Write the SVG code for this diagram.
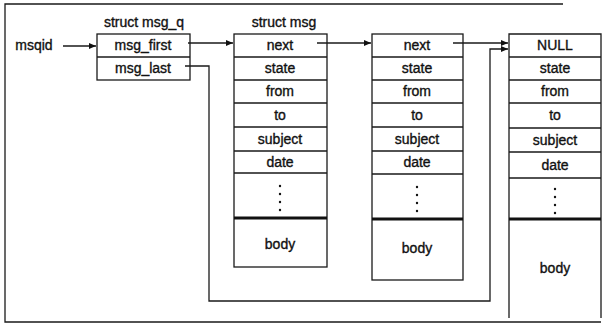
<svg xmlns="http://www.w3.org/2000/svg" width="603" height="324" viewBox="0 0 603 324">
<style>
.bx{fill:none;stroke:#1a1a1a;stroke-width:1.3}
.ln{fill:none;stroke:#1a1a1a;stroke-width:1.3}
.thick{stroke:#111;stroke-width:3}
text{font-family:"Liberation Sans",Arial,sans-serif;font-size:14px;fill:#111;stroke:#111;stroke-width:0.35;text-anchor:middle}
.dot{fill:#111}
</style>
<defs>
<marker id="ah" markerWidth="8" markerHeight="8" refX="7" refY="4" orient="auto" markerUnits="userSpaceOnUse">
<path d="M0,1 L7,4 L0,7 Z" fill="#111"/>
</marker>
</defs>
<rect width="603" height="324" fill="#fff"/>
<path class="ln" d="M563,4 H5 V322 H601"/>

<g id="msqid"><text x="34" y="50">msqid</text></g>

<g id="msg_q">
<text x="144" y="27">struct msg_q</text>
<rect class="bx" x="97" y="34" width="93" height="46"/>
<line class="ln" x1="97" y1="57" x2="190" y2="57"/>
<text x="143" y="50">msg_first</text>
<text x="143" y="73">msg_last</text>
</g>

<g id="msg1">
<text x="284" y="27">struct msg</text>
<rect class="bx" x="234" y="34" width="93" height="233"/>
<path class="ln" d="M234,57H327M234,80H327M234,103H327M234,127H327M234,151H327M234,173H327"/>
<line class="thick" x1="234" y1="218" x2="327" y2="218"/>
<text x="280" y="50">next</text>
<text x="280" y="73">state</text>
<text x="280" y="96">from</text>
<text x="280" y="120">to</text>
<text x="280" y="144">subject</text>
<text x="280" y="167">date</text>
<g class="dot"><circle cx="280" cy="186" r="1.2"/><circle cx="280" cy="194" r="1.2"/><circle cx="280" cy="202" r="1.2"/><circle cx="280" cy="210" r="1.2"/></g>
<text x="280" y="249">body</text>
</g>

<g id="msg2">
<rect class="bx" x="372" y="34" width="91" height="246"/>
<path class="ln" d="M372,57H463M372,80H463M372,103H463M372,127H463M372,151H463M372,174H463"/>
<line class="thick" x1="372" y1="219" x2="463" y2="219"/>
<text x="417" y="50">next</text>
<text x="417" y="73">state</text>
<text x="417" y="96">from</text>
<text x="417" y="120">to</text>
<text x="417" y="144">subject</text>
<text x="417" y="167">date</text>
<g class="dot"><circle cx="417" cy="187" r="1.2"/><circle cx="417" cy="195" r="1.2"/><circle cx="417" cy="203" r="1.2"/><circle cx="417" cy="211" r="1.2"/></g>
<text x="417" y="253">body</text>
</g>

<g id="msg3">
<path class="bx" d="M509,318V34H601V318"/>
<path class="ln" d="M509,57H601M509,80H601M509,103H601M509,128H601M509,152H601M509,178H601"/>
<line class="thick" x1="509" y1="219" x2="601" y2="219"/>
<text x="555" y="50">NULL</text>
<text x="555" y="73">state</text>
<text x="555" y="96">from</text>
<text x="555" y="120">to</text>
<text x="555" y="145">subject</text>
<text x="555" y="170">date</text>
<g class="dot"><circle cx="555" cy="189" r="1.2"/><circle cx="555" cy="197" r="1.2"/><circle cx="555" cy="205" r="1.2"/><circle cx="555" cy="213" r="1.2"/></g>
<text x="555" y="273">body</text>
</g>

<g id="connectors">
<line class="ln" x1="63" y1="46" x2="96" y2="46" marker-end="url(#ah)"/>
<line class="ln" x1="188" y1="43" x2="233" y2="43" marker-end="url(#ah)"/>
<line class="ln" x1="317" y1="43" x2="371" y2="43" marker-end="url(#ah)"/>
<line class="ln" x1="453" y1="43" x2="508" y2="43" marker-end="url(#ah)"/>
<path class="ln" d="M185,66H209V301H490V49H508" marker-end="url(#ah)"/>
</g>
</svg>
